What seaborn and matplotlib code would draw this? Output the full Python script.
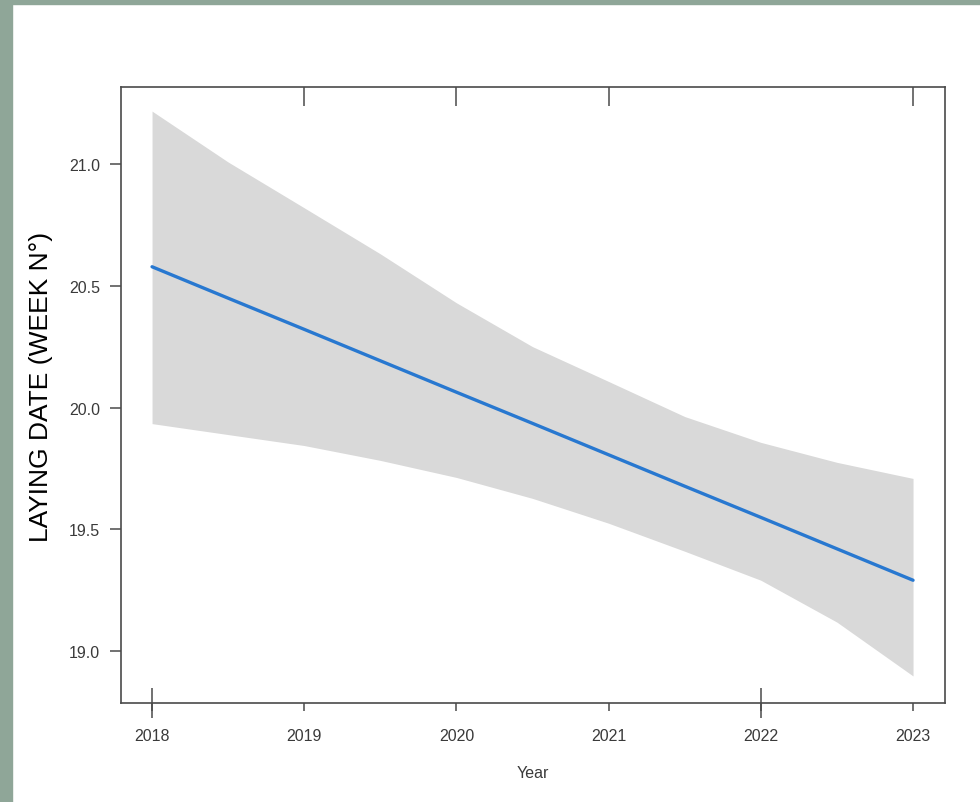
#
# laying date trend: fitted line with confidence band
#
# importing libraries
import numpy as np
import pandas as pd
import matplotlib
matplotlib.use('Agg')
import matplotlib.pyplot as plt
from matplotlib.patches import Rectangle
from matplotlib.ticker import FixedLocator
import seaborn as sns
#
# data
years = [2018.0, 2018.5, 2019.0, 2019.5, 2020.0, 2020.5,
         2021.0, 2021.5, 2022.0, 2022.5, 2023.0]
fit = [20.578, 20.449, 20.321, 20.192, 20.063, 19.935,
       19.806, 19.677, 19.549, 19.420, 19.291]
upper = [21.217, 21.008, 20.820, 20.631, 20.430, 20.250,
         20.107, 19.963, 19.857, 19.775, 19.709]
lower = [19.934, 19.889, 19.844, 19.783, 19.713, 19.627,
         19.525, 19.410, 19.291, 19.119, 18.898]
# tick labels
x_ticks = [2018, 2019, 2020, 2021, 2022, 2023]
y_ticks = [19.0, 19.5, 20.0, 20.5, 21.0]
top_ticks = [2019, 2020, 2021, 2023]
cross_ticks = [2018, 2022]
#
df = pd.DataFrame({'Year': years, 'fit': fit, 'upper': upper, 'lower': lower})
#
#---
# plotting
#---
sns.set_theme(style='white')
plt.rcParams['font.family'] = ['Liberation Sans', 'DejaVu Sans']
#
fig = plt.figure(figsize=(9.8, 8.03), dpi=100)
fig.patch.set_facecolor('white')
# greenish frame strips on the left and top
fig.patches.append(Rectangle((0, 0), 12/980, 1, transform=fig.transFigure,
                             color='#8fa698', zorder=0))
fig.patches.append(Rectangle((0, 1 - 5/803), 1, 5/803, transform=fig.transFigure,
                             color='#8fa698', zorder=0))
#
ax = fig.add_axes([121/980, 99/803, 824/980, 616/803])
#
ax.fill_between(df['Year'], df['lower'], df['upper'], color='#d9d9d9',
                linewidth=0, zorder=1)
sns.lineplot(data=df, x='Year', y='fit', ax=ax, color='#2878d0',
             linewidth=2.4, zorder=2)
#
ax.set_xlim(2017.796, 2023.21)
ax.set_ylim(18.787, 21.316)
#
# axes frame
for s in ax.spines.values():
    s.set_visible(True)
    s.set_color('#4a4a4a')
    s.set_linewidth(1.2)
#
# bottom ticks
ax.set_xticks(x_ticks)
ax.set_xticklabels([str(t) for t in x_ticks])
ax.tick_params(axis='x', which='major', direction='out', length=6, width=1.1,
               color='#4a4a4a', bottom=True, pad=12, labelsize=11.5,
               labelcolor='#3a3a3a')
ax.xaxis.remove_overlapping_locs = False
ax.xaxis.set_minor_locator(FixedLocator(cross_ticks))
ax.tick_params(axis='x', which='minor', direction='inout', length=22, width=1.1,
               color='#4a4a4a', bottom=True)
#
# top ticks pointing in
top = ax.secondary_xaxis('top')
top.set_xticks(top_ticks)
top.set_xticklabels([])
top.tick_params(direction='in', length=14, width=1.1, color='#4a4a4a')
top.spines['top'].set_visible(False)
#
# left ticks
ax.set_yticks(y_ticks)
ax.set_yticklabels(['%.1f' % t for t in y_ticks])
ax.tick_params(axis='y', direction='out', length=8, width=1.1,
               color='#4a4a4a', left=True, pad=7, labelsize=11.5,
               labelcolor='#3a3a3a')
#
ax.set_xlabel('Year', fontsize=11.5, color='#3a3a3a', labelpad=16)
ax.set_ylabel('LAYING DATE (WEEK N°)', fontsize=19, color='black')
ax.yaxis.set_label_coords(-0.083, 0.515)
#
plt.savefig('out.png', dpi=100)
plt.close()
